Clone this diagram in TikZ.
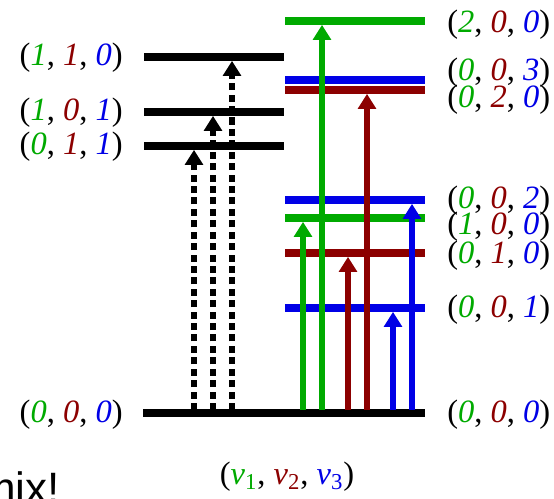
\documentclass[tikz,border=0pt]{standalone}
\usepackage{fontspec}
\setmainfont{Liberation Serif}
\setsansfont{Liberation Sans}
\usetikzlibrary{arrows.meta}
\definecolor{modegreen}{RGB}{0, 170, 0}
\definecolor{modered}{RGB}{140, 0, 0}
\definecolor{modeblue}{RGB}{0, 0, 230}
\newcommand{\occ}[3]{(\textit{\color{modegreen}#1}, \textit{\color{modered}#2}, \textit{\color{modeblue}#3})}

\begin{document}
\begin{tikzpicture}[x=0.02cm, y=-0.02cm,
    level/.style={fill, inner sep=0pt, minimum width=2.8cm, minimum height=4pt},
    lab/.style={inner sep=0pt, font=\fontsize{18.5}{21}\selectfont},
    up/.style={line width=3.4pt, -{Triangle[length=8.5pt, width=10pt]}},
    virtual/.style={up, black, dash pattern=on 4pt off 2.5pt}]
    \useasboundingbox (0,0) rectangle (554,498);

    % ground state, both halves
    \node[level, minimum width=2.86cm] (g0L) at (214,413) {};
    \node[level] (g0R) at (355,413) {};

    % combination levels (left)
    \node[level] (l110) at (214,57) {};
    \node[level] (l101) at (214,112) {};
    \node[level] (l011) at (214,146) {};

    % overtone and fundamental levels (right)
    \node[level, modegreen] (l200) at (355,21) {};
    \node[level, modeblue] (l003) at (355,80) {};
    \node[level, modered] (l020) at (355,90) {};
    \node[level, modeblue] (l002) at (355,200) {};
    \node[level, modegreen] (l100) at (355,218) {};
    \node[level, modered] (l010) at (355,253) {};
    \node[level, modeblue] (l001) at (355,308) {};

    % labels
    \node[lab, anchor=east] (t110) at (123,58) {\occ{1}{1}{0}};
    \node[lab, anchor=east] (t101) at (123,113) {\occ{1}{0}{1}};
    \node[lab, anchor=east] (t011) at (123,147) {\occ{0}{1}{1}};
    \node[lab, anchor=east] (t000L) at (123,415) {\occ{0}{0}{0}};
    \node[lab, anchor=west] (t200) at (447,25) {\occ{2}{0}{0}};
    \node[lab, anchor=west] (t003) at (447,73) {\occ{0}{0}{3}};
    \node[lab, anchor=west] (t020) at (447,100) {\occ{0}{2}{0}};
    \node[lab, anchor=west] (t002) at (447,201) {\occ{0}{0}{2}};
    \node[lab, anchor=west] (t100) at (447,227) {\occ{1}{0}{0}};
    \node[lab, anchor=west] (t010) at (447,256) {\occ{0}{1}{0}};
    \node[lab, anchor=west] (t001) at (447,310) {\occ{0}{0}{1}};
    \node[lab, anchor=west] (t000R) at (447,415) {\occ{0}{0}{0}};
    \node[lab] (axis) at (287,477) {(\textit{\color{modegreen}v}\textsubscript{\color{modegreen}1}, \textit{\color{modered}v}\textsubscript{\color{modered}2}, \textit{\color{modeblue}v}\textsubscript{\color{modeblue}3})};
    \node[anchor=base west, inner sep=0pt, font=\sffamily\fontsize{25}{28}\selectfont] (mix) at (-21,503) {mix!};

    % transitions start on the ground level
    \coordinate (d1) at (194,410);
    \coordinate (d2) at (213,410);
    \coordinate (d3) at (232,410);
    \coordinate (a1) at (303,410);
    \coordinate (a2) at (322,410);
    \coordinate (a3) at (348,410);
    \coordinate (a4) at (367,410);
    \coordinate (a5) at (393,410);
    \coordinate (a6) at (412,410);

    \draw[virtual] (d1) -- (d1 |- l011.south);
    \draw[virtual] (d2) -- (d2 |- l101.south);
    \draw[virtual] (d3) -- (d3 |- l110.south);
    \draw[up, modegreen] (a1) -- (a1 |- l100.south);
    \draw[up, modegreen] (a2) -- (a2 |- l200.south);
    \draw[up, modered] (a3) -- (a3 |- l010.south);
    \draw[up, modered] (a4) -- (a4 |- l020.south);
    \draw[up, modeblue] (a5) -- (a5 |- l001.south);
    \draw[up, modeblue] (a6) -- (a6 |- l002.south);
\end{tikzpicture}
\end{document}
